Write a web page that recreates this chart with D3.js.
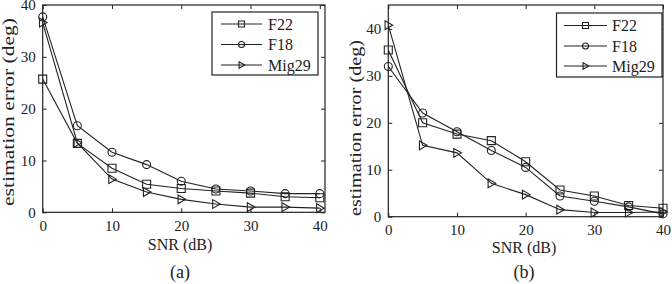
<!DOCTYPE html>
<html>
<head>
<meta charset="utf-8">
<script src="https://cdn.jsdelivr.net/npm/d3@7/dist/d3.min.js"></script>
<style>
  body { margin: 0; background: #fff; }
  text { font-family: "Liberation Serif", "Times New Roman", serif; fill: #222; }
</style>
</head>
<body>
<script>
const snr = [0, 5, 10, 15, 20, 25, 30, 35, 40];
const seriesNames = ['F22', 'F18', 'Mig29'];

// panel (a)
const f22A = [25.7, 13.3, 8.5, 5.4, 4.6, 4.1, 3.7, 3.0, 2.8];
const f18A = [37.7, 16.7, 11.6, 9.2, 6.0, 4.5, 4.1, 3.6, 3.6];
const migA = [36.6, 13.4, 6.4, 3.9, 2.5, 1.6, 1.0, 1.0, 0.8];

// panel (b)
const f22B = [35.5, 20.0, 17.6, 16.2, 11.7, 5.7, 4.4, 2.4, 1.8];
const f18B = [32.0, 22.1, 18.1, 14.1, 10.5, 4.4, 3.3, 2.1, 0.6];
const migB = [40.8, 15.2, 13.6, 7.1, 4.7, 1.5, 0.9, 0.9, 1.0];

const xTicks = [0, 10, 20, 30, 40];
const yTicks = [0, 10, 20, 30, 40];

const width = 672, height = 284;
const ink = '#222';

const svg = d3.select('body').append('svg')
  .attr('width', width)
  .attr('height', height);

const markerPath = (name, s) => {
  if (name === 'F22') return `M${-s},${-s}H${s}V${s}H${-s}Z`;
  if (name === 'F18') return `M${s},0A${s},${s} 0 1,1 ${-s},0A${s},${s} 0 1,1 ${s},0Z`;
  return `M${-s * 0.8},${-s * 1.1}L${s * 1.1},0L${-s * 0.8},${s * 1.1}Z`;
};

function panel(cfg) {
  const { left, right, top, bottom, xMax, yMax, series, legend, label, cx } = cfg;

  const x = d3.scaleLinear().domain([0, xMax]).range([left, right]);
  const y = d3.scaleLinear().domain([0, yMax]).range([bottom, top]);

  const g = svg.append('g');

  // inward ticks on all four sides
  g.append('g')
    .attr('transform', `translate(0,${bottom})`)
    .call(d3.axisBottom(x).tickValues(xTicks).tickSizeInner(-4).tickSizeOuter(0).tickPadding(8))
    .call(a => a.select('.domain').remove());
  g.append('g')
    .attr('transform', `translate(0,${top})`)
    .call(d3.axisTop(x).tickValues(xTicks).tickSizeInner(-4).tickSizeOuter(0).tickFormat(''))
    .call(a => a.select('.domain').remove());
  g.append('g')
    .attr('transform', `translate(${left},0)`)
    .call(d3.axisLeft(y).tickValues(yTicks).tickSizeInner(-4).tickSizeOuter(0).tickPadding(7))
    .call(a => a.select('.domain').remove());
  g.append('g')
    .attr('transform', `translate(${right},0)`)
    .call(d3.axisRight(y).tickValues(yTicks).tickSizeInner(-4).tickSizeOuter(0).tickFormat(''))
    .call(a => a.select('.domain').remove());

  g.selectAll('.tick line').attr('stroke', ink);
  g.selectAll('.tick text')
    .attr('font-size', 15)
    .attr('font-family', '"Liberation Serif", serif')
    .attr('fill', ink);

  g.append('rect')
    .attr('x', left).attr('y', top)
    .attr('width', right - left).attr('height', bottom - top)
    .attr('fill', 'none').attr('stroke', ink).attr('stroke-width', 1.2);

  const line = d3.line().x((d, i) => x(snr[i])).y(d => y(d));

  series.forEach((vals, k) => {
    const name = seriesNames[k];
    g.append('path')
      .attr('d', line(vals))
      .attr('fill', 'none')
      .attr('stroke', ink)
      .attr('stroke-width', 1.1);
    g.selectAll(null)
      .data(vals)
      .enter()
      .append('path')
      .attr('transform', (d, i) => `translate(${x(snr[i])},${y(d)})`)
      .attr('d', markerPath(name, 4))
      .attr('fill', 'none')
      .attr('stroke', ink)
      .attr('stroke-width', 1.1);
  });

  // legend
  const lg = g.append('g');
  lg.append('rect')
    .attr('x', legend.x0).attr('y', legend.y0)
    .attr('width', legend.x1 - legend.x0).attr('height', legend.y1 - legend.y0)
    .attr('fill', '#fff').attr('stroke', ink).attr('stroke-width', 1.2);
  seriesNames.forEach((name, i) => {
    const yy = legend.rows[i];
    lg.append('line')
      .attr('x1', legend.l0).attr('x2', legend.l1)
      .attr('y1', yy).attr('y2', yy)
      .attr('stroke', ink).attr('stroke-width', 1.1);
    lg.append('path')
      .attr('transform', `translate(${(legend.l0 + legend.l1) / 2},${yy})`)
      .attr('d', markerPath(name, 3))
      .attr('fill', 'none').attr('stroke', ink).attr('stroke-width', 1.1);
    lg.append('text')
      .attr('x', legend.tx).attr('y', yy)
      .attr('dy', '0.35em')
      .attr('font-size', 16)
      .text(name);
  });

  // axis labels
  g.append('text')
    .attr('x', cx).attr('y', cfg.xlabelY)
    .attr('text-anchor', 'middle')
    .attr('font-size', 16)
    .text('SNR (dB)');

  g.append('text')
    .attr('transform', `translate(${cfg.ylabelX},${cfg.ylabelY}) rotate(-90)`)
    .attr('text-anchor', 'middle')
    .attr('font-size', 17)
    .attr('textLength', cfg.ylabelLen)
    .attr('lengthAdjust', 'spacingAndGlyphs')
    .text('estimation error (deg)');

  g.append('text')
    .attr('x', cx).attr('y', 278)
    .attr('text-anchor', 'middle')
    .attr('font-size', 18)
    .text(label);
}

panel({
  left: 42.7, right: 325, top: 5, bottom: 212.3,
  xMax: 40.75, yMax: 40,
  series: [f22A, f18A, migA],
  legend: { x0: 212, x1: 318, y0: 12, y1: 75, rows: [24, 44.5, 65], l0: 221, l1: 262, tx: 268 },
  label: '(a)', cx: 180, xlabelY: 250,
  ylabelX: 14, ylabelY: 112, ylabelLen: 188
});

panel({
  left: 388.3, right: 663, top: 5, bottom: 216.7,
  xMax: 40, yMax: 45.1,
  series: [f22B, f18B, migB],
  legend: { x0: 556.5, x1: 662, y0: 13, y1: 77, rows: [25.5, 46, 66], l0: 564, l1: 607, tx: 612 },
  label: '(b)', cx: 524, xlabelY: 253,
  ylabelX: 361, ylabelY: 128, ylabelLen: 176
});
</script>
</body>
</html>
